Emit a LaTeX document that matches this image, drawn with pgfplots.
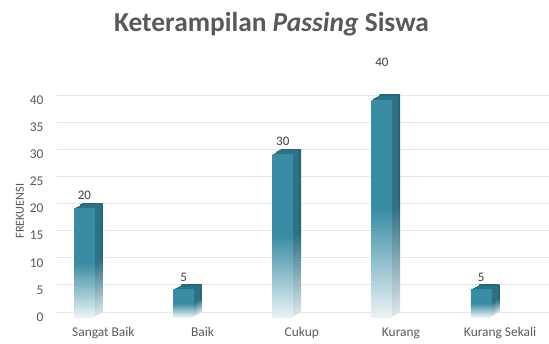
\documentclass[border=0pt]{standalone}
\usepackage{pgfplots}
\pgfplotsset{compat=1.18}
\usepackage{fontspec}
\setmainfont{Carlito}

\definecolor{barfront}{HTML}{3A8CA4}
\definecolor{barfade}{HTML}{EAF3F6}
\definecolor{barside}{HTML}{266579}
\definecolor{bartop}{HTML}{2D7185}
\definecolor{barsidefade}{HTML}{DCE5E8}
\definecolor{gridgray}{HTML}{E6E6E6}
\definecolor{labelgray}{HTML}{595959}
\definecolor{valuegray}{HTML}{404040}

% front face: solid teal on the upper half, fading out towards the floor
\pgfdeclareverticalshading{frontfade}{100bp}{color(0bp)=(barfade); color(25bp)=(barfade); color(50bp)=(barfront); color(100bp)=(barfront)}
% side face, a darker teal with the same fade
\pgfdeclareverticalshading{sidefade}{100bp}{color(0bp)=(barsidefade); color(25bp)=(barsidefade); color(50bp)=(barside); color(100bp)=(barside)}
% slices between front and back, which build the slanted top
\pgfdeclareverticalshading{topfade}{100bp}{color(0bp)=(barsidefade); color(25bp)=(barsidefade); color(50bp)=(bartop); color(100bp)=(bartop)}

\pgfplotsset{
  backface/.style={ybar, bar width=20.5pt, bar shift=-11pt, yshift=5pt, draw=none, shading=sidefade},
  sliceA/.style={ybar, bar width=20.5pt, bar shift=-13pt, yshift=3.75pt, draw=none, shading=topfade},
  sliceB/.style={ybar, bar width=20.5pt, bar shift=-15pt, yshift=2.5pt, draw=none, shading=topfade},
  sliceC/.style={ybar, bar width=20.5pt, bar shift=-17pt, yshift=1.25pt, draw=none, shading=topfade},
  frontface/.style={ybar, bar width=20.5pt, bar shift=-19pt, draw=none, shading=frontfade},
}

\begin{document}
\begin{tikzpicture}[x=1pt,y=1pt]
\path[use as bounding box] (0,0) rectangle (549,343);

\node[font=\fontsize{27.4}{31}\selectfont\bfseries, text=labelgray, anchor=base]
  at (271.5,311) {Keterampilan \textit{Passing} Siswa};

\node[rotate=90, font=\fontsize{12.3}{14}\selectfont, text=labelgray]
  at (20,132) {FREKUENSI};

\begin{axis}[
  at={(57pt,26pt)}, anchor=south west,
  scale only axis, width=492pt, height=217pt,
  xmin=-0.468, xmax=4.493, ymin=0, ymax=40,
  xtick={0,1,2,3,4},
  xticklabels={Sangat Baik, Baik, Cukup, Kurang, Kurang Sekali},
  ytick={0,5,...,40},
  axis line style={draw=none},
  major tick style={draw=none},
  ymajorgrids,
  grid style={gridgray, line width=0.9pt, yshift=5pt},
  tick label style={font=\fontsize{13.4}{15}\selectfont, text=labelgray},
  /pgf/number format/assume math mode=true,
  yticklabel style={xshift=-10pt},
  xticklabel style={yshift=-7pt},
  clip=false,
]
% one plot per bar, so that each bar gets its own fade
% back faces, offset up and to the right
\addplot[backface] coordinates {(0,20)};
\addplot[backface] coordinates {(1,5)};
\addplot[backface] coordinates {(2,30)};
\addplot[backface] coordinates {(3,40)};
\addplot[backface] coordinates {(4,5)};
% slices stepping from the back face to the front face
\addplot[sliceA] coordinates {(0,20)};
\addplot[sliceA] coordinates {(1,5)};
\addplot[sliceA] coordinates {(2,30)};
\addplot[sliceA] coordinates {(3,40)};
\addplot[sliceA] coordinates {(4,5)};
\addplot[sliceB] coordinates {(0,20)};
\addplot[sliceB] coordinates {(1,5)};
\addplot[sliceB] coordinates {(2,30)};
\addplot[sliceB] coordinates {(3,40)};
\addplot[sliceB] coordinates {(4,5)};
\addplot[sliceC] coordinates {(0,20)};
\addplot[sliceC] coordinates {(1,5)};
\addplot[sliceC] coordinates {(2,30)};
\addplot[sliceC] coordinates {(3,40)};
\addplot[sliceC] coordinates {(4,5)};
% front faces
\addplot[frontface] coordinates {(0,20)};
\addplot[frontface] coordinates {(1,5)};
\addplot[frontface] coordinates {(2,30)};
\addplot[frontface] coordinates {(3,40)};
\addplot[frontface] coordinates {(4,5)};

% value labels
\addplot[draw=none, mark=none, nodes near coords,
  every node near coord/.append style={xshift=-19pt, yshift=5pt,
    font=\fontsize{13}{15}\selectfont, text=valuegray}]
  coordinates {(0,20) (1,5) (2,30) (4,5)};
\addplot[draw=none, mark=none, nodes near coords,
  every node near coord/.append style={xshift=-19pt, yshift=30pt,
    font=\fontsize{13}{15}\selectfont, text=valuegray}]
  coordinates {(3,40)};
\end{axis}
\end{tikzpicture}
\end{document}
